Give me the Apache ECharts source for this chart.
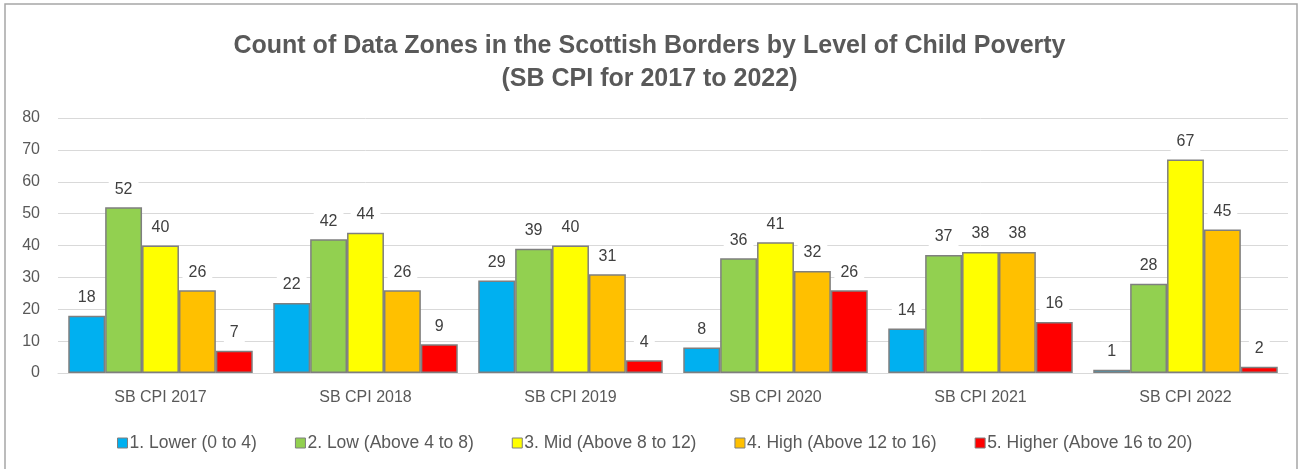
<!DOCTYPE html>
<html>
<head>
<meta charset="utf-8">
<script src="https://cdn.jsdelivr.net/npm/echarts@6/dist/echarts.min.js"></script>
<style>
  html, body { margin: 0; padding: 0; background: #fff; }
  #chart { width: 1299px; height: 469px; }
</style>
</head>
<body>
<div id="chart"></div>
<script>
// Index periods shown along the x axis
const categories = ['SB CPI 2017', 'SB CPI 2018', 'SB CPI 2019', 'SB CPI 2020', 'SB CPI 2021', 'SB CPI 2022'];

// Count of data zones per poverty level, one array per level
const lower  = [18, 22, 29, 8, 14, 1];
const low    = [52, 42, 39, 36, 37, 28];
const mid    = [40, 44, 40, 41, 38, 67];
const high   = [26, 26, 31, 32, 38, 45];
const higher = [7, 9, 4, 26, 16, 2];

const seriesNames = [
  '1. Lower (0 to 4)',
  '2. Low (Above 4 to 8)',
  '3. Mid (Above 8 to 12)',
  '4. High (Above 12 to 16)',
  '5. Higher (Above 16 to 20)'
];
const seriesColors = ['#00B0F0', '#92D050', '#FFFF00', '#FFC000', '#FF0000'];
const seriesData = [lower, low, mid, high, higher];

const FONT = '"Liberation Sans", Arial, sans-serif';

const chart = echarts.init(document.getElementById('chart'), null, { renderer: 'canvas' });

chart.setOption({
  backgroundColor: '#ffffff',
  animation: false,
  textStyle: { fontFamily: FONT },
  graphic: [{
    // chart area frame (bottom edge runs past the canvas)
    type: 'rect',
    shape: { x: 5, y: 4, width: 1292, height: 480 },
    style: { fill: 'none', stroke: '#a6a6a6', lineWidth: 1.5 },
    silent: true
  }],
  title: {
    text: 'Count of Data Zones in the Scottish Borders by Level of Child Poverty\n(SB CPI for 2017 to 2022)',
    left: 'center',
    top: 25,
    textStyle: {
      fontFamily: FONT,
      fontSize: 25,
      fontWeight: 'bold',
      color: '#595959',
      lineHeight: 33
    }
  },
  legend: {
    top: 429,
    left: 112,
    itemWidth: 10,
    itemHeight: 10,
    itemGap: 38,
    icon: 'rect',
    textStyle: { fontFamily: FONT, fontSize: 17.5, color: '#595959', padding: [0, 0, 0, -3] },
    data: seriesNames.map((n, i) => ({
      name: n,
      itemStyle: { color: seriesColors[i], borderColor: '#7f7f7f', borderWidth: 1 }
    }))
  },
  grid: { left: 58, right: 11, top: 118, bottom: 96, containLabel: false },
  xAxis: {
    type: 'category',
    data: categories,
    axisLine: { show: true, lineStyle: { color: '#d9d9d9', width: 1 } },
    axisTick: { show: false },
    axisLabel: { fontFamily: FONT, fontSize: 16, color: '#595959', margin: 17 }
  },
  yAxis: {
    type: 'value',
    min: 0,
    max: 80,
    interval: 10,
    axisLine: { show: false },
    axisTick: { show: false },
    axisLabel: { fontFamily: FONT, fontSize: 16, color: '#595959', margin: 18, align: 'right' },
    splitLine: { lineStyle: { color: '#d9d9d9', width: 1 } }
  },
  series: seriesData.map((d, i) => ({
    name: seriesNames[i],
    type: 'bar',
    data: d,
    barGap: '0%',
    barCategoryGap: '10%',
    itemStyle: { color: seriesColors[i], borderColor: '#7f7f7f', borderWidth: 1.5 },
    label: {
      show: true,
      position: 'top',
      distance: 8,
      fontFamily: FONT,
      fontSize: 16,
      color: '#404040',
      backgroundColor: '#ffffff',
      padding: [2, 6, 2, 6]
    }
  }))
});
</script>
</body>
</html>
